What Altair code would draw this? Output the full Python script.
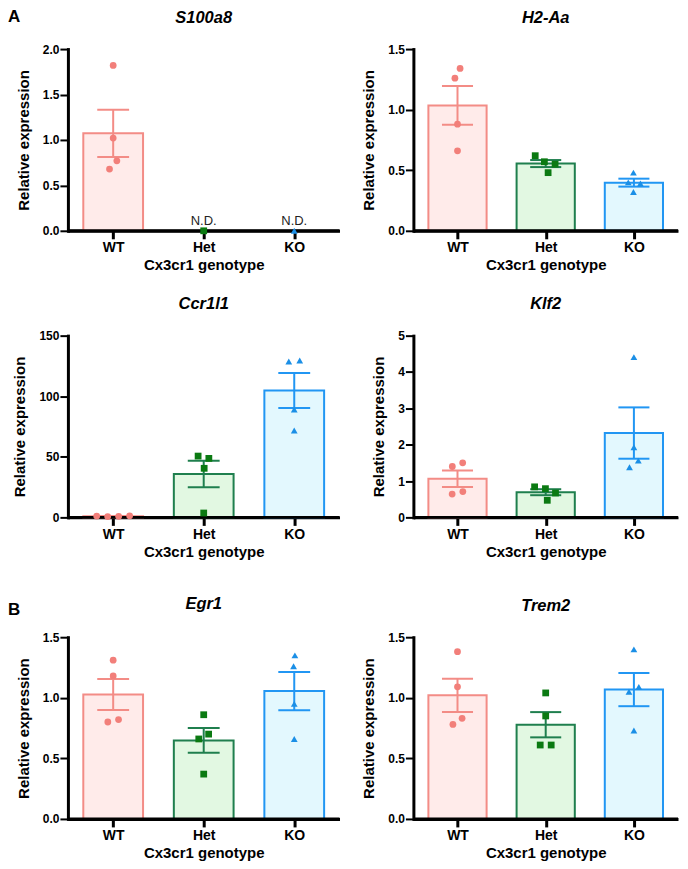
import json
import math
import altair as alt
import pandas as pd

# ---------------- data ----------------
groups = ["WT", "Het", "KO"]
genes = ["S100a8", "H2-Aa", "Ccr1l1", "Klf2", "Egr1", "Trem2"]
panel_letters = ["A", "B"]
nd_text = "N.D."
x_title = "Cx3cr1 genotype"
y_title = "Relative expression"

s100a8_wt = [1.82, 1.02, 0.77, 0.68]
s100a8_het = [0.0]
s100a8_ko = [0.0]
s100a8_not_detected = ["Het", "KO"]

h2aa_wt = [1.34, 1.26, 0.88, 0.66]
h2aa_het = [0.62, 0.57, 0.55, 0.48]
h2aa_ko = [0.48, 0.39, 0.40, 0.32]

ccr1l1_wt = [1.3, 0.7, 0.9, 1.1]
ccr1l1_het = [50.6, 48.7, 40.5, 3.6]
ccr1l1_ko = [129.5, 128.7, 89.0, 71.7]

klf2_wt = [1.50, 1.40, 0.71, 0.64]
klf2_het = [0.84, 0.79, 0.67, 0.47]
klf2_ko = [4.41, 1.93, 1.56, 1.38]

egr1_wt = [1.31, 1.18, 0.82, 0.80]
egr1_het = [0.86, 0.70, 0.66, 0.37]
egr1_ko = [1.35, 1.26, 0.95, 0.66]

trem2_wt = [1.38, 1.09, 0.83, 0.78]
trem2_het = [1.04, 0.85, 0.61, 0.61]
trem2_ko = [1.40, 1.09, 1.05, 0.73]

y_max = [2.0, 1.5, 150, 5, 1.5, 1.5]
y_step = [0.5, 0.5, 50, 1, 0.5, 0.5]

series = [
    [s100a8_wt, s100a8_het, s100a8_ko],
    [h2aa_wt, h2aa_het, h2aa_ko],
    [ccr1l1_wt, ccr1l1_het, ccr1l1_ko],
    [klf2_wt, klf2_het, klf2_ko],
    [egr1_wt, egr1_het, egr1_ko],
    [trem2_wt, trem2_het, trem2_ko],
]
not_detected = [s100a8_not_detected, [], [], [], [], []]

# ---------------- style ----------------
FONT = "Liberation Sans, Arial, Helvetica, sans-serif"
W_LEFT, W_RIGHT, H = 272, 265, 182
fill_colors = ["#FFEBEA", "#E2F8E2", "#E3F8FE"]
stroke_colors = ["#F38C86", "#1F7F4E", "#2196F3"]
point_colors = ["#F27F7A", "#0B7A12", "#1B8FE6"]
point_shapes = ["circle", "square", "triangle-up"]
BAR_HALF = 0.33
CAP_HALF = 0.176
TITLE_OFFSETS = [4, 4, 4.5, 4.5, 5.5, 3.5]


def swarm(vals, ymax, width, d=11.0):
    """Column-scatter spreading (beeswarm) in pixels, returned in x-units."""
    ppu = H / ymax
    step = width / 3.0
    order = sorted(range(len(vals)), key=lambda i: vals[i])
    xs = [0.0] * len(vals)
    placed = []
    for i in order:
        y = vals[i] * ppu
        near = [(px, py) for px, py in placed if abs(py - y) < d]
        cands = [0.0]
        for px, py in near:
            dx = math.sqrt(max(d * d - (py - y) ** 2, 0))
            cands += [px + dx, px - dx]
        cands.sort(key=lambda c: (round(abs(c), 6), -c))
        for c in cands:
            if all((c - px) ** 2 + (y - py) ** 2 >= d * d - 1e-6 for px, py in near):
                xs[i] = c
                break
        placed.append((xs[i], y))
    clusters, cur, prev = [], [], None
    for i in order:
        y = vals[i] * ppu
        if prev is not None and y - prev >= d:
            clusters.append(cur)
            cur = []
        cur.append(i)
        prev = y
    if cur:
        clusters.append(cur)
    for cl in clusters:
        m = sum(xs[i] for i in cl) / len(cl)
        for i in cl:
            xs[i] -= m
    return [x / step for x in xs]


label_expr = json.dumps(groups) + "[datum.value]"


def make_panel(k):
    gene, ymax, ystep, nd = genes[k], y_max[k], y_step[k], not_detected[k]
    width = W_LEFT if k % 2 == 0 else W_RIGHT
    rows = []
    for gi, (g, vals) in enumerate(zip(groups, series[k])):
        for v, o in zip(vals, swarm(vals, ymax, width)):
            rows.append(dict(group=g, idx=gi, value=v, xpos=gi + o, nd=g in nd))
    df = pd.DataFrame(rows)

    xs = alt.Scale(domain=[-0.5, 2.5], nice=False, zero=False)
    ys = alt.Scale(domain=[0, ymax], nice=False, zero=True)
    nt = int(round(ymax / ystep))
    xaxis = alt.Axis(
        values=[0, 1, 2], labelExpr=label_expr, title=x_title, grid=False,
        domainColor="black", domainWidth=3, domainCap="butt",
        tickColor="black", tickWidth=3, tickSize=8,
        labelFont=FONT, labelFontSize=14, labelFontWeight="bold", labelColor="black",
        labelPadding=2, labelFlush=False,
        titleFont=FONT, titleFontSize=15, titleFontWeight="bold", titleColor="black",
        titlePadding=3,
    )
    yaxis = alt.Axis(
        values=[i * ystep for i in range(nt + 1)],
        format=".1f" if ystep < 1 else "d",
        title=y_title, grid=False,
        domainColor="black", domainWidth=3, domainCap="square",
        tickColor="black", tickWidth=2, tickSize=8,
        labelFont=FONT, labelFontSize=12, labelFontWeight="bold", labelColor="black",
        labelPadding=1, labelFlush=False,
        titleFont=FONT, titleFontSize=15, titleFontWeight="bold", titleColor="black",
        titlePadding=11,
    )

    def X(f):
        return alt.X(f, type="quantitative", scale=xs, axis=xaxis)

    def Y(f):
        return alt.Y(f, type="quantitative", scale=ys, axis=yaxis)

    fill = alt.Fill("group:N", scale=alt.Scale(domain=groups, range=fill_colors), legend=None)
    stroke = alt.Stroke("group:N", scale=alt.Scale(domain=groups, range=stroke_colors), legend=None)
    color = alt.Color("group:N", scale=alt.Scale(domain=groups, range=point_colors), legend=None)
    shape = alt.Shape("group:N", scale=alt.Scale(domain=groups, range=point_shapes), legend=None)

    base = alt.Chart(df)
    stats = (
        base.transform_filter("!datum.nd")
        .transform_aggregate(mean="mean(value)", sd="stdev(value)", n="count()", groupby=["group", "idx"])
        .transform_calculate(
            lo="datum.mean - datum.sd / sqrt(datum.n)",
            hi="datum.mean + datum.sd / sqrt(datum.n)",
            bx1=f"datum.idx - {BAR_HALF}",
            bx2=f"datum.idx + {BAR_HALF}",
            cx1=f"datum.idx - {CAP_HALF}",
            cx2=f"datum.idx + {CAP_HALF}",
        )
    )
    bars = stats.mark_bar(strokeWidth=2).encode(
        x=X("bx1"), x2="bx2", y=Y("mean"), y2=alt.datum(0), fill=fill, stroke=stroke
    )
    err = stats.mark_rule(strokeWidth=2).encode(x=X("idx"), y=Y("lo"), y2="hi", stroke=stroke)
    cap_hi = stats.mark_rule(strokeWidth=2).encode(x=X("cx1"), x2="cx2", y=Y("hi"), stroke=stroke)
    cap_lo = stats.mark_rule(strokeWidth=2).encode(x=X("cx1"), x2="cx2", y=Y("lo"), stroke=stroke)
    baseline = (
        base.transform_aggregate(n="count()")
        .transform_calculate(xa="-0.5", xb="2.5", z="0")
        .mark_rule(strokeWidth=3, color="black", strokeCap="butt")
        .encode(x=X("xa"), x2="xb", y=Y("z"))
    )
    points = base.mark_point(filled=True, size=46, opacity=1).encode(
        x=X("xpos"), y=Y("value"), color=color, shape=shape
    )
    ndlab = (
        base.transform_filter("datum.nd")
        .mark_text(dy=-6, baseline="alphabetic", fontSize=13, font=FONT, color="#222222")
        .encode(x=X("idx"), y=Y("value"), text=alt.value(nd_text))
    )
    return alt.layer(bars, err, cap_hi, cap_lo, baseline, points, ndlab).properties(
        width=width,
        height=H,
        title=alt.TitleParams(
            text=gene, font=FONT, fontSize=16.5, fontWeight="bold", fontStyle="italic",
            color="black", anchor="middle", frame="group", offset=TITLE_OFFSETS[k],
            baseline="alphabetic",
        ),
    )


one = pd.DataFrame({"k": [0]})


def spacer(h, width, letter=None, ly=0):
    c = alt.Chart(one)
    if letter:
        c = c.mark_text(
            align="left", baseline="alphabetic", fontSize=17, fontWeight="bold",
            font=FONT, color="black",
        ).encode(x=alt.value(-60), y=alt.value(ly), text=alt.value(letter))
    else:
        c = c.mark_point(opacity=0).encode(x=alt.value(0), y=alt.value(0))
    return c.properties(width=width, height=h)


S = 40
H1 = 24.5
H2 = 40

cells = [
    make_panel(0), make_panel(1),
    spacer(H1, W_LEFT, panel_letters[0], -249), spacer(H1, W_RIGHT),
    make_panel(2), make_panel(3),
    spacer(H2, W_LEFT, panel_letters[1], 58), spacer(H2, W_RIGHT),
    make_panel(4), make_panel(5),
]

chart = (
    alt.concat(
        *cells,
        columns=2,
        spacing={"row": S, "column": 74},
        bounds="flush",
        align={"row": "each", "column": "each"},
    )
    .properties(padding={"left": 0, "top": -0.5, "right": 0, "bottom": 0}, background="white")
    .configure_view(strokeWidth=0)
)

chart.save("out.html", embed_options={"renderer": "svg", "actions": False})
